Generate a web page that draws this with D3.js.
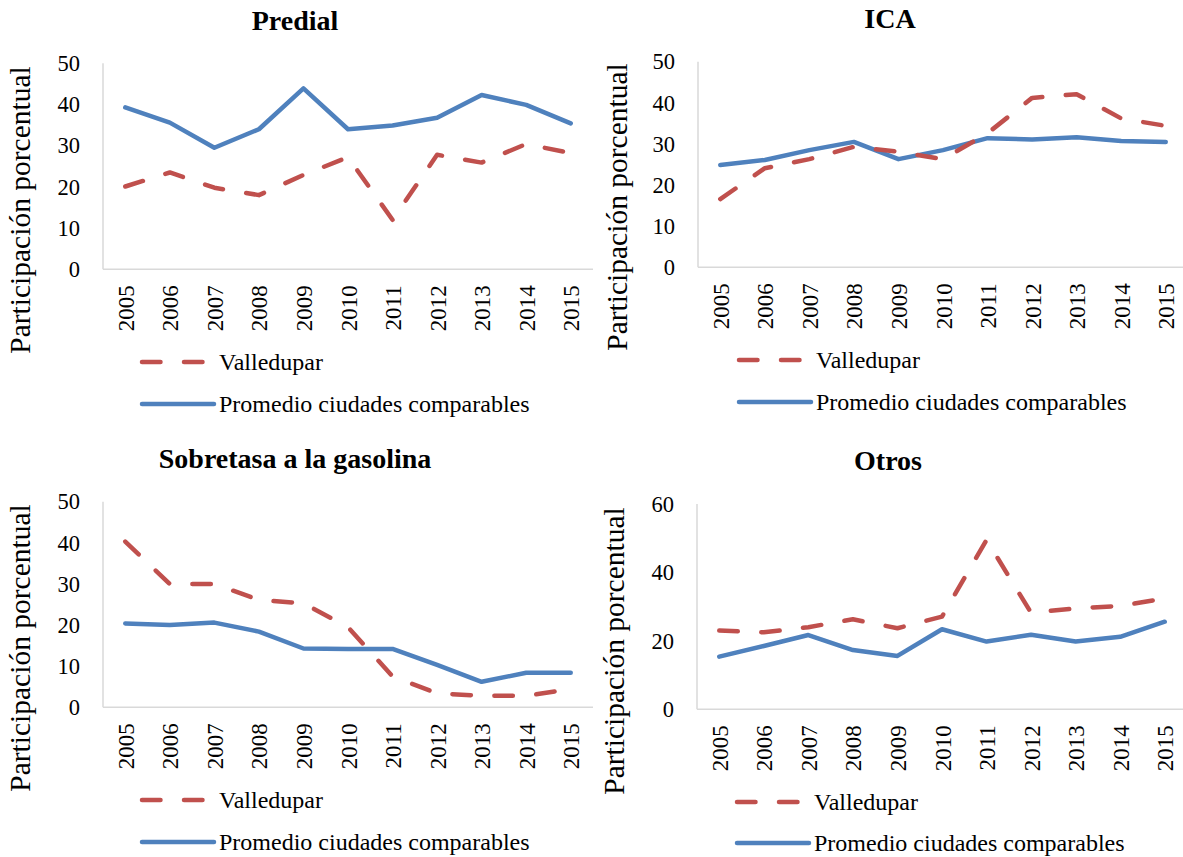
<!DOCTYPE html>
<html>
<head>
<meta charset="utf-8">
<script src="https://cdn.jsdelivr.net/npm/d3@7"></script>
<style>
  body { margin: 0; background: #fff; }
  svg { display: block; }
  text { font-family: "Liberation Serif", "Times New Roman", serif; fill: #000; }
</style>
</head>
<body>
<div id="chart"></div>
<script>
const years = ['2005', '2006', '2007', '2008', '2009', '2010', '2011', '2012', '2013', '2014', '2015'];
const seriesNames = ['Valledupar', 'Promedio ciudades comparables'];
const titles = ['Predial', 'ICA', 'Sobretasa a la gasolina', 'Otros'];
const yMax = [50, 50, 50, 60];
const yTicks = [[0, 10, 20, 30, 40, 50], [0, 10, 20, 30, 40, 50], [0, 10, 20, 30, 40, 50], [0, 20, 40, 60]];
const yLabel = 'Participación porcentual';

const predialValledupar = [20.1, 23.5, 19.8, 18.0, 22.9, 27.2, 12.0, 27.8, 25.9, 30.4, 28.2];
const predialPromedio = [39.3, 35.6, 29.5, 34.0, 43.9, 34.0, 34.9, 36.8, 42.3, 39.9, 35.4];
const icaValledupar = [16.6, 24.1, 26.3, 29.3, 28.1, 26.3, 32.6, 41.2, 42.1, 36.2, 34.4];
const icaPromedio = [24.9, 26.1, 28.5, 30.5, 26.3, 28.5, 31.4, 31.1, 31.6, 30.7, 30.5];
const sobretasaValledupar = [40.3, 30.0, 30.0, 26.1, 25.3, 19.5, 7.5, 3.4, 2.8, 2.8, 4.4];
const sobretasaPromedio = [20.4, 20.0, 20.6, 18.4, 14.3, 14.2, 14.2, 10.3, 6.2, 8.4, 8.4];
const otrosValledupar = [23.0, 22.5, 24.0, 26.3, 23.7, 27.1, 49.5, 28.2, 29.5, 30.2, 32.4];
const otrosPromedio = [15.4, 18.5, 21.7, 17.3, 15.6, 23.4, 19.8, 21.8, 19.8, 21.2, 25.6];

const valleColor = '#C0504D';
const promColor = '#4F81BD';

// layout of each of the four panels (pixels)
const panels = [
  { data: [predialValledupar, predialPromedio], left: 103, right: 593, top: 63.3, bottom: 269.3,
    titleX: 295, titleY: 30, labelX: 20, labelY: 210, legX: 142, legY: [362, 404], axisEnd: 593 },
  { data: [icaValledupar, icaPromedio], left: 698, right: 1188, top: 61.7, bottom: 267.3,
    titleX: 890, titleY: 28, labelX: 617, labelY: 207, legX: 739, legY: [360, 402], axisEnd: 1183 },
  { data: [sobretasaValledupar, sobretasaPromedio], left: 103, right: 593, top: 501.7, bottom: 707.3,
    titleX: 295, titleY: 468, labelX: 20, labelY: 648, legX: 142, legY: [800, 842], axisEnd: 593 },
  { data: [otrosValledupar, otrosPromedio], left: 697, right: 1187, top: 504, bottom: 709.3,
    titleX: 888, titleY: 470, labelX: 614, labelY: 651, legX: 737, legY: [802, 843], axisEnd: 1183 },
];

const svg = d3.select('#chart').append('svg')
  .attr('width', 1183)
  .attr('height', 857);

panels.forEach((p, k) => {
  const g = svg.append('g');
  const x = d3.scalePoint().domain(years).range([p.left, p.right]).padding(0.5);
  const y = d3.scaleLinear().domain([0, yMax[k]]).range([p.bottom, p.top]);

  // title
  g.append('text')
    .attr('x', p.titleX).attr('y', p.titleY)
    .attr('text-anchor', 'middle')
    .style('font-size', '28px').style('font-weight', 'bold')
    .text(titles[k]);

  // y label
  g.append('text')
    .attr('transform', `translate(${p.labelX},${p.labelY}) rotate(-90)`)
    .attr('text-anchor', 'middle')
    .attr('dy', '0.35em')
    .style('font-size', '29.5px')
    .text(yLabel);

  // axis lines
  g.append('line')
    .attr('x1', p.left).attr('x2', p.left).attr('y1', p.top).attr('y2', p.bottom)
    .style('stroke', '#d9d9d9').style('stroke-width', 1.5);
  g.append('line')
    .attr('x1', p.left).attr('x2', p.axisEnd).attr('y1', p.bottom).attr('y2', p.bottom)
    .style('stroke', '#d9d9d9').style('stroke-width', 1.5);

  // y ticks
  const yAxis = g.append('g')
    .attr('transform', `translate(${p.left},0)`)
    .call(d3.axisLeft(y).tickValues(yTicks[k]).tickSize(0).tickPadding(23));
  yAxis.select('.domain').remove();
  yAxis.selectAll('text')
    .style('font-family', '"Liberation Serif", serif').style('font-size', '22.5px').style('fill', '#000');

  // x ticks
  const xAxis = g.append('g')
    .attr('transform', `translate(0,${p.bottom})`)
    .call(d3.axisBottom(x).tickSize(0));
  xAxis.select('.domain').remove();
  xAxis.selectAll('text')
    .attr('transform', 'rotate(-90)')
    .attr('x', -16).attr('y', 0).attr('dy', '0.35em')
    .attr('text-anchor', 'end')
    .style('font-family', '"Liberation Serif", serif').style('font-size', '23px').style('fill', '#000');

  const line = d3.line()
    .x((d, i) => x(years[i]))
    .y(d => y(d));

  // Promedio (solid)
  g.append('path')
    .datum(p.data[1])
    .attr('d', line)
    .style('fill', 'none').style('stroke', promColor).style('stroke-width', 4.5)
    .style('stroke-linecap', 'round').style('stroke-linejoin', 'round');

  // Valledupar (dashed)
  g.append('path')
    .datum(p.data[0])
    .attr('d', line)
    .style('fill', 'none').style('stroke', valleColor).style('stroke-width', 4.5)
    .style('stroke-linecap', 'round').style('stroke-linejoin', 'round')
    .style('stroke-dasharray', '18.5,23.5');

  // legend
  const legColors = [valleColor, promColor];
  seriesNames.forEach((name, i) => {
    g.append('line')
      .attr('x1', p.legX).attr('x2', p.legX + 72)
      .attr('y1', p.legY[i]).attr('y2', p.legY[i])
      .style('stroke', legColors[i]).style('stroke-width', 4.5)
      .style('stroke-linecap', 'round')
      .style('stroke-dasharray', i === 0 ? '18.5,23.5' : null);
    g.append('text')
      .attr('x', p.legX + 77).attr('y', p.legY[i])
      .attr('dy', '0.33em')
      .style('font-size', '24px')
      .text(name);
  });
});
</script>
</body>
</html>
